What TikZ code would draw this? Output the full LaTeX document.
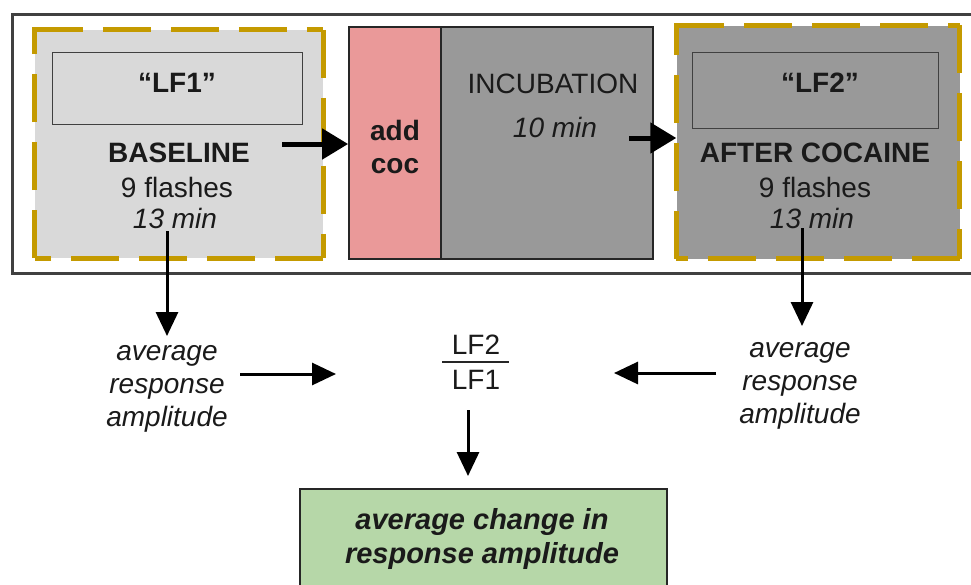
\documentclass[tikz,border=0pt]{standalone}
\usepackage{fontspec}
\setmainfont{Liberation Sans}
\usetikzlibrary{arrows.meta}
\definecolor{gold}{HTML}{C49A00}
\definecolor{lgray}{HTML}{D9D9D9}
\definecolor{mgray}{HTML}{999999}
\definecolor{pinkc}{HTML}{EA9999}
\definecolor{greenc}{HTML}{B6D7A8}
\definecolor{txt}{HTML}{1A1A1A}
\tikzset{
  dashside/.style={draw=gold, line width=5pt, dash pattern=on 48pt off 20pt},
  plainbox/.style={draw=black!85, line width=1.8pt, inner sep=0pt},
  thinbox/.style={draw=black!75, line width=1pt, inner sep=0pt},
  lbl/.style={text=txt, inner sep=0pt, font=\fontsize{28}{33}\selectfont},
  blbl/.style={lbl, font=\fontsize{28}{33}\selectfont\bfseries},
  ilbl/.style={lbl, font=\fontsize{28}{33}\selectfont\itshape},
  bigarr/.style={line width=5pt, -{Triangle[length=26pt,width=30pt]}},
  arr/.style={line width=3pt, -{Triangle[length=24pt,width=22pt]}},
}
\newcommand{\dashframe}[1]{%
  \draw[dashside] (#1.north west) -- (#1.north east);
  \draw[dashside] (#1.north east) -- (#1.south east);
  \draw[dashside] (#1.south east) -- (#1.south west);
  \draw[dashside] (#1.south west) -- (#1.north west);
  \fill[gold] ([shift={(-2.5pt,-2.5pt)}]#1.north west) rectangle ([shift={(2.5pt,2.5pt)}]#1.north west);
}
\begin{document}
\begin{tikzpicture}[x=1pt,y=-1pt]
\clip (0,0) rectangle (971,584);
\fill[white] (0,0) rectangle (971,584);
% outer frame
\node[draw=black!75, line width=2.8pt, minimum width=990pt, minimum height=259pt, anchor=north west, inner sep=0pt] (frame) at (11,13) {};
% baseline block
\node[fill=lgray, inner sep=0pt, minimum width=288pt, minimum height=228pt] (base) at (179,144) {};
\dashframe{base}
\node[thinbox, fill=lgray, minimum width=250pt, minimum height=72pt] (lf1) at (177,88) {};
\node[blbl] (lf1t) at (177,83) {“LF1”};
\node[blbl] (baset) at (179,153) {BASELINE};
\node[lbl] (basef) at (177,187) {9 flashes};
\node[ilbl] (basem) at (175,218) {13 min};
% add coc + incubation
\node[plainbox, fill=pinkc, minimum width=92pt, minimum height=232pt] (coc) at (395,143) {};
\node[plainbox, fill=mgray, minimum width=212pt, minimum height=232pt] (incu) at (547,143) {};
\node[blbl, align=center] (coct) at (395,147) {add\\coc};
\node[lbl] (incut) at (553,84) {INCUBATION};
\node[ilbl] (incum) at (555,127) {10 min};
% after cocaine block
\node[fill=mgray, inner sep=0pt, minimum width=283pt, minimum height=233pt] (after) at (818,142) {};
\dashframe{after}
\node[thinbox, fill=mgray, minimum width=246pt, minimum height=76pt] (lf2) at (815,90) {};
\node[blbl] (lf2t) at (820,83) {“LF2”};
\node[blbl] (aftert) at (815,153) {AFTER COCAINE};
\node[lbl] (afterf) at (815,187) {9 flashes};
\node[ilbl] (afterm) at (812,218) {13 min};
% lower row
\node[ilbl, align=center] (ampl) at (167,389) {average\\response\\amplitude};
\node[ilbl, align=center] (ampr) at (800,386) {average\\response\\amplitude};
\node[lbl] (num) at (476,345) {LF2};
\node[lbl] (den) at (476,380) {LF1};
\draw[line width=2pt, black!85] (442,362) -- (509,362);
\node[draw=black!85, line width=1.8pt, fill=greenc, minimum width=367pt, minimum height=110pt, anchor=north west, inner sep=0pt] (res) at (299,488) {};
\node[blbl, align=center, font=\fontsize{29}{34}\selectfont\bfseries\itshape] (rest) at (482,539) {average change in\\response amplitude};
% connectors
\coordinate (a1s) at (282,144);
\coordinate (a2s) at (629,138);
\coordinate (d1s) at (167,231);
\coordinate (d1e) at (167,336);
\coordinate (d2s) at (802,228);
\coordinate (d2e) at (802,326);
\coordinate (h1s) at (240,374);
\coordinate (h1e) at (336,374);
\coordinate (h2s) at (716,373);
\coordinate (h2e) at (614,373);
\coordinate (d3s) at (468,410);
\coordinate (d3e) at (468,476);
\draw[bigarr] (a1s) -- (a1s -| coc.west);
\draw[bigarr] (a2s) -- (a2s -| after.west);
\draw[arr] (d1s) -- (d1e);
\draw[arr] (d2s) -- (d2e);
\draw[arr] (h1s) -- (h1e);
\draw[arr] (h2s) -- (h2e);
\draw[arr] (d3s) -- (d3e);
\end{tikzpicture}
\end{document}
